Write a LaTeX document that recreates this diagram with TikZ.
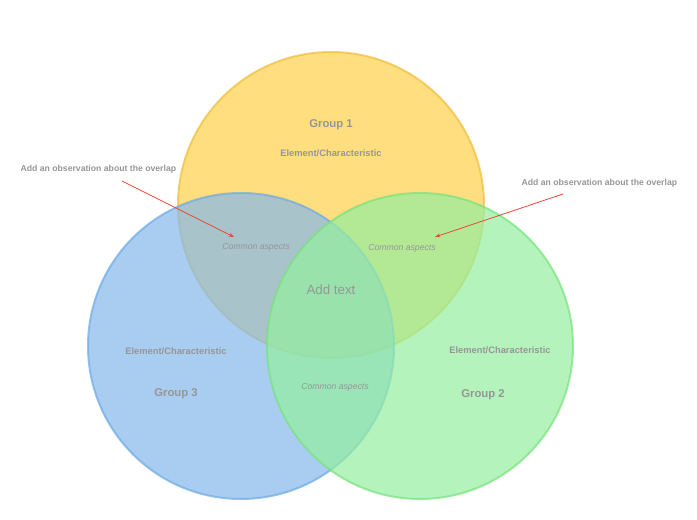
\documentclass[tikz,border=0pt]{standalone}
\usepackage{fontspec}
\setmainfont{Liberation Sans}
\usepackage{tikz}
\usetikzlibrary{arrows.meta,positioning}
\definecolor{vnyellow}{RGB}{255,208,74}
\definecolor{vnyellowline}{RGB}{238,190,60}
\definecolor{vnblue}{RGB}{131,184,234}
\definecolor{vnblueline}{RGB}{110,170,228}
\definecolor{vngreen}{RGB}{148,239,159}
\definecolor{vngreenline}{RGB}{120,226,125}
\definecolor{vntext}{RGB}{150,150,150}
\definecolor{vnred}{RGB}{232,72,60}

\begin{document}
\begin{tikzpicture}[x=0.75pt, y=-0.75pt,
    every node/.style={text=vntext, inner sep=1pt},
    grouplbl/.style={font=\fontsize{8.5}{10}\selectfont\bfseries},
    elemlbl/.style={font=\fontsize{7}{8}\selectfont\bfseries},
    commonlbl/.style={font=\fontsize{6.5}{8}\selectfont\itshape},
    obslbl/.style={font=\fontsize{6.5}{8}\selectfont\bfseries, anchor=west},
    bubble/.style={line width=1.5pt, opacity=0.7},
    obsarrow/.style={-{Stealth[length=4pt,width=3pt]}, vnred, line width=0.6pt}]
  \useasboundingbox (0,0) rectangle (697,520);
  % ---- the three sets ----
  \path[bubble, fill=vnyellow, draw=vnyellowline] (331,205) circle[radius=153];
  \path[bubble, fill=vnblue, draw=vnblueline] (241,346) circle[radius=153];
  \path[bubble, fill=vngreen, draw=vngreenline] (420,346) circle[radius=153];
  % ---- group labels ----
  \node[grouplbl] (grpone) at (331,125) {Group 1};
  \node[elemlbl] (elemone) at (331,153) {Element/Characteristic};
  \node[elemlbl] (elemthree) at (176,351) {Element/Characteristic};
  \node[grouplbl] (grpthree) at (176,394) {Group 3};
  \node[elemlbl] (elemtwo) at (500,350) {Element/Characteristic};
  \node[grouplbl] (grptwo) at (483,395) {Group 2};
  % ---- overlaps ----
  \node[commonlbl] (commonl) at (256,247) {Common aspects};
  \node[commonlbl] (commonr) at (402,248) {Common aspects};
  \node[commonlbl] (commonb) at (335,387) {Common aspects};
  \node[font=\fontsize{10}{12}\selectfont] (center) at (331,290) {Add text};
  % ---- observations ----
  \node[obslbl] (obsl) at (19,169) {Add an observation about the overlap};
  \node[obslbl] (obsr) at (520,183) {Add an observation about the overlap};
  \coordinate (obsltail) at (122,181);
  \coordinate (obsrtail) at (563,194);
  \coordinate (obslhead) at (234,237);
  \coordinate (obsrhead) at (435,237);
  \draw[obsarrow] (obsltail) -- (obslhead);
  \draw[obsarrow] (obsrtail) -- (obsrhead);
\end{tikzpicture}
\end{document}
